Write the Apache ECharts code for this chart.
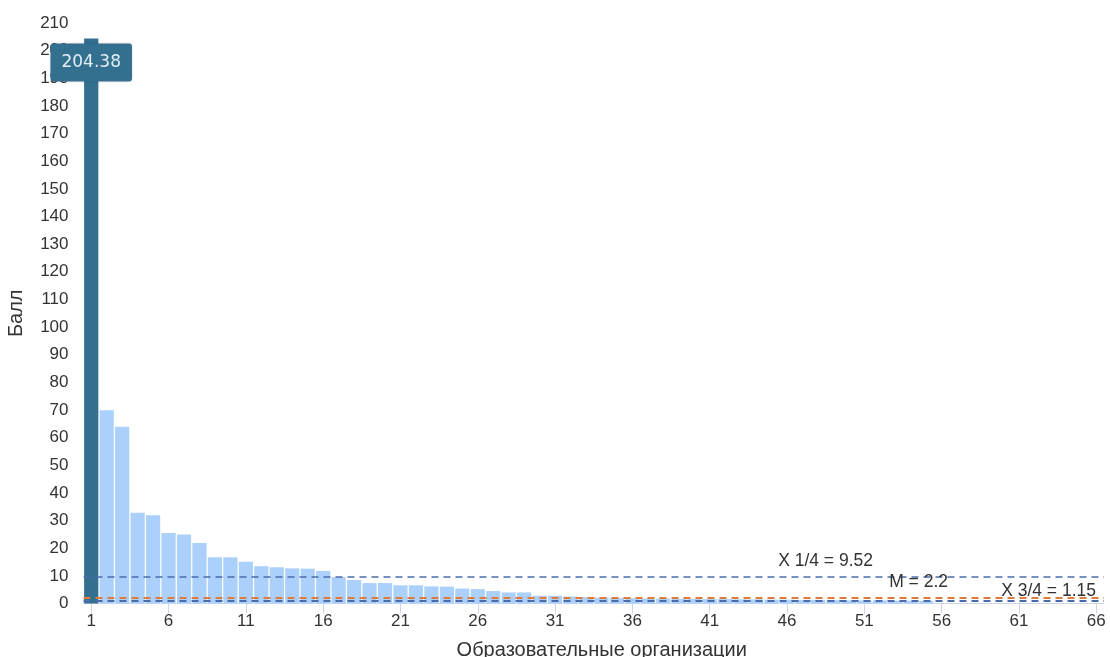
<!DOCTYPE html>
<html>
<head>
<meta charset="utf-8">
<script src="https://cdn.jsdelivr.net/npm/echarts@6/dist/echarts.min.js"></script>
<style>
html,body{margin:0;padding:0;background:#fff;}
#chart{width:1110px;height:657px;}
</style>
</head>
<body>
<div id="chart"></div>
<script>
// Categories: organisation numbers 1..66
const categories = ['1','2','3','4','5','6','7','8','9','10','11','12','13','14','15','16','17','18','19','20','21','22','23','24','25','26','27','28','29','30','31','32','33','34','35','36','37','38','39','40','41','42','43','44','45','46','47','48','49','50','51','52','53','54','55','56','57','58','59','60','61','62','63','64','65','66'];
// Scores (Балл)
const scores = [204.38, 69.9, 63.9, 32.8, 31.9, 25.5, 25.0, 21.9, 16.7, 16.7,
  15.1, 13.5, 13.1, 12.7, 12.6, 11.8, 9.52, 8.5, 7.4, 7.4,
  6.6, 6.6, 6.2, 6.1, 5.4, 5.2, 4.5, 4.0, 4.0, 2.8,
  2.8, 2.5, 2.3, 2.1, 2.0, 1.9, 1.8, 1.8, 1.7, 1.7,
  1.6, 1.6, 1.5, 1.5, 1.4, 1.4, 1.3, 1.3, 1.2, 1.15,
  1.1, 1.1, 1.0, 1.0, 0.9, 0, 0, 0, 0, 0,
  0, 0, 0, 0, 0, 0];
const highlightIndex = 0;
// Reference lines
const refNames = ['X 1/4', 'M', 'X 3/4'];
const refValues = [9.52, 2.2, 1.15];

const chart = echarts.init(document.getElementById('chart'));
const font = 'Liberation Sans, Arial, sans-serif';

const barData = scores.map((v, i) => {
  if (i === highlightIndex) {
    return {
      value: v,
      itemStyle: { color: '#336f8f' },
      label: {
        show: true,
        position: 'insideTop',
        distance: 5,
        formatter: '{c}',
        backgroundColor: '#336f8f',
        borderRadius: 3,
        padding: [10, 11],
        color: '#e3eef4',
        fontSize: 17,
        lineHeight: 18,
        fontFamily: 'DejaVu Sans, sans-serif',
        shadowColor: 'rgba(0,0,0,0.15)',
        shadowBlur: 3
      }
    };
  }
  return v;
});

const lineStyles = [
  { color: '#4a6cad', width: 1.5, type: [7, 5] },
  { color: '#e07b39', width: 2, type: [7, 5] },
  { color: '#4a6cad', width: 2, type: [7, 5] }
];
const labelDist = [[231, 7], [156, 6], [8, 0]];

const markData = refValues.map((v, i) => ({
  yAxis: v,
  lineStyle: lineStyles[i],
  label: {
    show: true,
    position: 'insideEndTop',
    distance: labelDist[i],
    formatter: refNames[i] + ' = ' + v,
    color: '#333',
    fontSize: 17.5,
    fontFamily: font
  }
}));

chart.setOption({
  animation: false,
  textStyle: { fontFamily: font },
  grid: { left: 83.5, right: 6, top: 23, bottom: 53.5, containLabel: false, outerBoundsMode: 'none' },
  xAxis: {
    type: 'category',
    data: categories,
    name: 'Образовательные организации',
    nameLocation: 'middle',
    nameGap: 37,
    nameTextStyle: { color: '#333', fontSize: 20, fontFamily: font, padding: [0, 0, 0, 16] },
    axisLine: { show: true, lineStyle: { color: '#ccd6eb' } },
    axisTick: { show: true, alignWithLabel: true, interval: 4, length: 10, lineStyle: { color: '#ccd6eb' } },
    axisLabel: { interval: 4, color: '#333', fontSize: 17, margin: 9, fontFamily: font },
    splitLine: { show: false }
  },
  yAxis: {
    type: 'value',
    min: 0,
    max: 210,
    interval: 10,
    name: 'Балл',
    nameLocation: 'middle',
    nameGap: 57,
    nameRotate: 90,
    nameTextStyle: { color: '#333', fontSize: 20, fontFamily: font },
    axisLine: { show: false },
    axisTick: { show: false },
    axisLabel: { color: '#333', fontSize: 17, margin: 15, fontFamily: font },
    splitLine: { show: false }
  },
  series: [{
    type: 'bar',
    data: barData,
    barCategoryGap: '8%',
    itemStyle: { color: '#aad0fb' },
    z: 3,
    markLine: {
      symbol: 'none',
      silent: true,
      z: 4,
      data: markData
    }
  }]
});
</script>
</body>
</html>
